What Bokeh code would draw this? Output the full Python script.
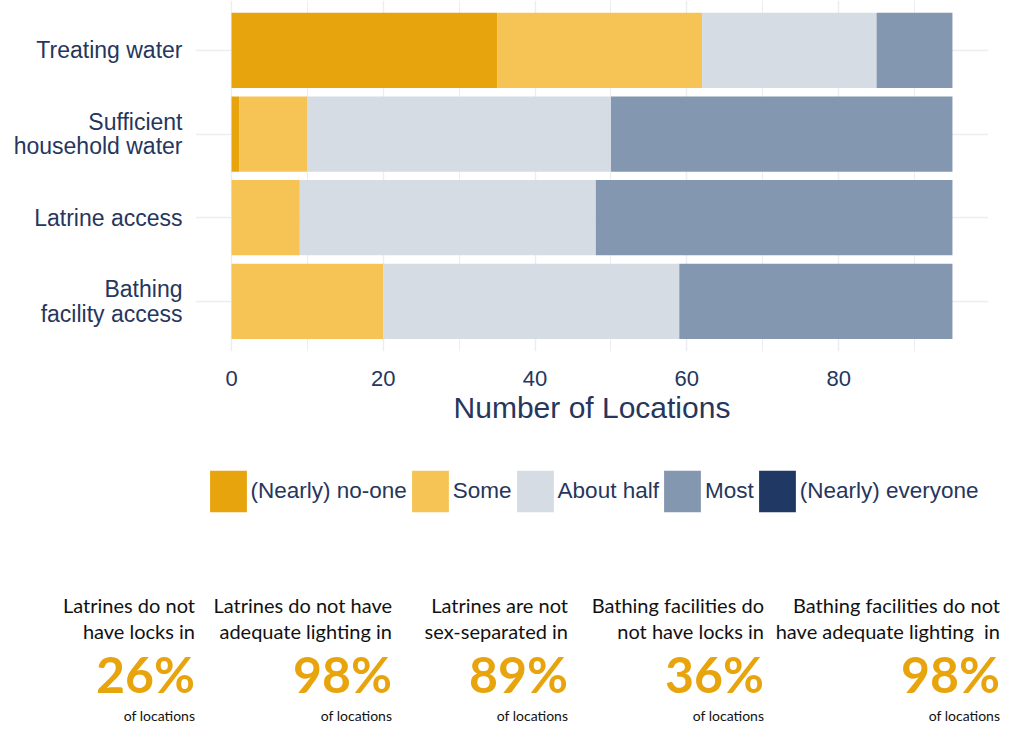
from bokeh.plotting import figure
from bokeh.models import (ColumnDataSource, Range1d, FixedTicker, Legend, LegendItem, Div)
from bokeh.layouts import column
from bokeh.embed import file_html
from bokeh.resources import INLINE

# ---------------- data ----------------
categories = ["Treating water", "Sufficient\nhousehold water", "Latrine access",
              "Bathing\nfacility access"]
levels = ["(Nearly) no-one", "Some", "About half", "Most", "(Nearly) everyone"]
nearly_no_one = [35, 1, 0, 0]
some = [27, 9, 9, 20]
about_half = [23, 40, 39, 39]
most = [10, 45, 47, 36]
nearly_everyone = [0, 0, 0, 0]

x_ticks = [0, 20, 40, 60, 80]
x_minor = [10, 30, 50, 70, 90]

stat_text = [["Latrines do not", "have locks in"],
             ["Latrines do not have", "adequate lighting in"],
             ["Latrines are not", "sex-separated in"],
             ["Bathing facilities do", "not have locks in"],
             ["Bathing facilities do not", "have adequate lighting &nbsp;in"]]
stat_pct = [26, 98, 89, 36, 98]
stat_unit = "of locations"

# ---------------- styles / layout ----------------
colors = ["#E8A40D", "#F5C454", "#D6DCE4", "#8497B0", "#203864"]
navy = "#26365C"
grid_col = "#EBEDF0"
gold = "#E8A40D"
FONT = "Liberation Sans"
STAT_FONT = "Lato"

W = 1013
FRAME_L, FRAME_R, FRAME_B = 195, 988, 351
P_H, Q_H, D_H = 451, 80, 198

# ---------------- bar chart ----------------
src = ColumnDataSource(dict(
    y=list(range(len(categories))),
    **{levels[0]: nearly_no_one, levels[1]: some, levels[2]: about_half,
       levels[3]: most, levels[4]: nearly_everyone}))

p = figure(width=W, height=P_H, output_backend="svg", toolbar_location=None,
           x_range=Range1d(-4.75, 99.75), y_range=Range1d(3.6, -0.597),
           min_border_left=FRAME_L, min_border_right=W - FRAME_R, min_border_top=0,
           min_border_bottom=P_H - FRAME_B)
p.outline_line_color = None
p.background_fill_color = "white"

p.hbar_stack(levels, y="y", height=0.9, color=colors, source=src, line_color=None)

p.xaxis.ticker = FixedTicker(ticks=x_ticks, minor_ticks=x_minor)
p.yaxis.ticker = FixedTicker(ticks=list(range(len(categories))))
p.yaxis.major_label_overrides = {i: c for i, c in enumerate(categories)}

for ax in (p.xaxis[0], p.yaxis[0]):
    ax.axis_line_color = None
    ax.major_tick_line_color = None
    ax.minor_tick_line_color = None
    ax.major_tick_out = 0
    ax.minor_tick_out = 0
    ax.major_label_text_font = FONT
    ax.major_label_text_color = navy

p.xaxis.major_label_text_font_size = "22px"
p.xaxis.major_label_standoff = 19
p.xaxis.axis_label = "Number of Locations"
p.xaxis.axis_label_text_font = FONT
p.xaxis.axis_label_text_font_size = "30px"
p.xaxis.axis_label_text_font_style = "normal"
p.xaxis.axis_label_text_color = navy
p.xaxis.axis_label_standoff = 2

p.yaxis.major_label_text_font_size = "23px"
p.yaxis.major_label_text_line_height = 0.95
p.yaxis.major_label_standoff = 13

p.xgrid.grid_line_color = grid_col
p.xgrid.grid_line_width = 1.5
p.xgrid.minor_grid_line_color = grid_col
p.xgrid.minor_grid_line_width = 1
p.ygrid.grid_line_color = grid_col
p.ygrid.grid_line_width = 1.5

# ---------------- legend strip ----------------
q = figure(width=W, height=Q_H, output_backend="svg", toolbar_location=None,
           x_range=Range1d(0, 100), y_range=Range1d(100, 101),
           x_axis_location=None, y_axis_location=None,
           min_border_left=0, min_border_right=0, min_border_top=0,
           min_border_bottom=0)
q.outline_line_color = None
q.grid.visible = False
# same stacked series (outside the visible range) serve as the legend's entries
q_renderers = q.hbar_stack(levels, y="y", height=0.9, color=colors, source=src,
                           line_color=None)
legend = Legend(items=[LegendItem(label=lv, renderers=[r]) for lv, r in zip(levels, q_renderers)],
                orientation="horizontal", location="center",
                glyph_width=46, glyph_height=52, label_standoff=0, spacing=0,
                padding=0, margin=0, border_line_color=None,
                background_fill_alpha=0,
                label_text_font=FONT, label_text_font_size="22.5px",
                label_text_color=navy)
q.add_layout(legend, "center")

# ---------------- stat row ----------------
col_right_px = [195, 392, 568, 764, 1000]
blocks = []
for xr, lines, pct in zip(col_right_px, stat_text, stat_pct):
    blocks.append(
        f'<div style="position:absolute;right:{W - xr}px;top:0;text-align:right;'
        f'white-space:nowrap;font-family:{STAT_FONT};">'
        f'<div style="position:absolute;right:0;top:61px;font-size:20px;line-height:26px;'
        f'color:#111111;">{lines[0]}<br>{lines[1]}</div>'
        f'<div style="position:absolute;right:0;top:118px;font-size:50px;line-height:50px;'
        f'font-weight:bold;color:{gold};">{pct}%</div>'
        f'<div style="position:absolute;right:0;top:178px;font-size:14px;line-height:14px;'
        f'color:#111111;">{stat_unit}</div>'
        f'</div>')
html = (f'<div style="position:relative;width:{W}px;height:{D_H}px;">'
        + "".join(blocks) + '</div>')
d = Div(text=html, width=W, height=D_H, margin=0)

layout = column(p, q, d, spacing=0)
open("out.html", "w").write(file_html(layout, INLINE))
